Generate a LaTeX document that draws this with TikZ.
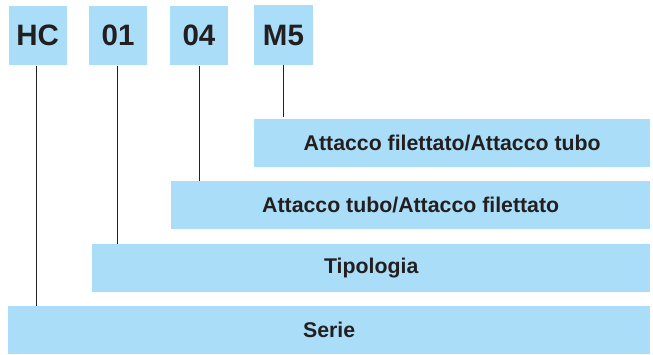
\documentclass[tikz,border=0pt]{standalone}
\usepackage{fontspec}
\setmainfont{Liberation Sans}
\definecolor{barblue}{RGB}{170,222,248}
\definecolor{txt}{RGB}{35,31,32}
\begin{document}
\begin{tikzpicture}[x=1pt,y=-1pt,
  codebox/.style={fill=barblue,draw=none,inner sep=0pt,minimum width=58.5pt,minimum height=59.5pt,anchor=north west,font=\fontsize{29.5}{29.5}\selectfont\bfseries,text=txt},
  barbox/.style={fill=barblue,draw=none,inner sep=0pt,minimum height=47.5pt,anchor=north west,font=\fontsize{21.3}{21.3}\selectfont\bfseries,text=txt},
  conn/.style={draw=txt,line width=1.5pt}]
\useasboundingbox (0,0) rectangle (653,354);
\node[codebox] (hc) at (8.3,5.7) {HC};
\node[codebox] (c01) at (88.7,5.7) {01};
\node[codebox] (c04) at (169.5,5.7) {04};
\node[codebox,minimum height=60pt] (m5) at (254,5) {M5};
\node[barbox,minimum width=396pt] (af) at (254,119) {Attacco filettato/Attacco tubo};
\node[barbox,minimum width=479pt] (at) at (171,181) {Attacco tubo/Attacco filettato};
\node[barbox,minimum width=558pt] (tip) at (92,244) {Tipologia};
\node[barbox,minimum width=642pt] (ser) at (8,306) {Serie};
\coordinate (m5end) at (283.3,116.8);
\draw[conn] (hc.south -| 36.7,0) -- (ser.north -| 36.7,0);
\draw[conn] (c01.south -| 117.3,0) -- (tip.north -| 117.3,0);
\draw[conn] (c04.south -| 199.3,0) -- (at.north -| 199.3,0);
\draw[conn] (m5.south -| m5end) -- (m5end);
\end{tikzpicture}
\end{document}
